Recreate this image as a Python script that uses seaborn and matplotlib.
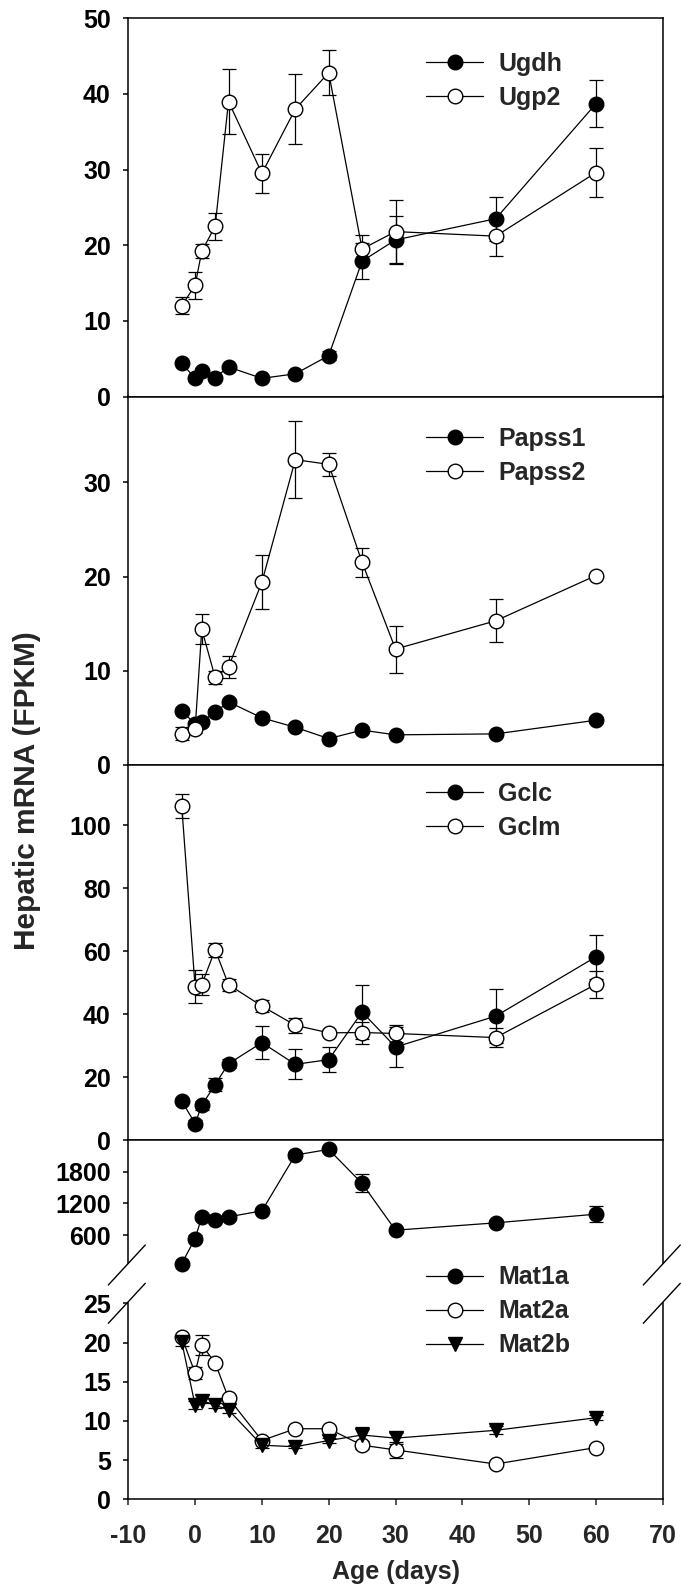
import matplotlib
matplotlib.use("Agg")
import matplotlib.pyplot as plt
import matplotlib.transforms as mtransforms
from matplotlib.lines import Line2D
import seaborn as sns

# ---------------- data ----------------
age = [-2, 0, 1, 3, 5, 10, 15, 20, 25, 30, 45, 60]

ugdh = [4.4, 2.4, 3.4, 2.5, 3.9, 2.4, 3.0, 5.4, 17.9, 20.7, 23.5, 38.7]
ugdh_err = [0.3, 0.3, 0.4, 0.3, 0.3, 0.2, 0.3, 0.6, 2.4, 3.2, 2.9, 3.1]
ugp2 = [12.0, 14.7, 19.2, 22.5, 39.0, 29.5, 38.0, 42.8, 19.5, 21.8, 21.2, 29.6]
ugp2_err = [1.1, 1.8, 0.9, 1.8, 4.35, 2.6, 4.6, 3.0, 1.8, 4.2, 2.6, 3.2]

papss1 = [5.7, 4.4, 4.6, 5.6, 6.7, 5.0, 4.0, 2.8, 3.7, 3.2, 3.3, 4.75]
papss1_err = [0.3, 0.3, 0.3, 0.3, 0.3, 0.3, 0.3, 0.2, 0.3, 0.2, 0.2, 0.3]
papss2 = [3.3, 3.8, 14.4, 9.3, 10.4, 19.4, 32.4, 31.9, 21.5, 12.3, 15.3, 20.1]
papss2_err = [0.7, 0.4, 1.6, 0.7, 1.15, 2.85, 4.1, 1.2, 1.5, 2.5, 2.3, 0.2]

gclc = [12.5, 5.3, 11.1, 17.7, 24.3, 31.0, 24.1, 25.6, 40.7, 29.6, 39.4, 58.2]
gclc_err = [0.8, 1.0, 1.5, 2.0, 1.5, 5.2, 4.8, 3.9, 8.7, 6.3, 8.5, 7.1]
gclm = [106.1, 48.7, 49.4, 60.5, 49.4, 42.6, 36.5, 34.1, 34.2, 33.9, 32.6, 49.5]
gclm_err = [3.8, 5.2, 3.4, 2.2, 1.9, 1.8, 2.4, 0.6, 3.5, 2.6, 3.0, 4.2]

mat1a = [63, 537, 947, 884, 947, 1061, 2116, 2223, 1579, 695, 834, 998]
mat1a_err = [20, 70, 50, 40, 50, 50, 60, 40, 170, 50, 60, 150]
mat2a = [20.7, 16.1, 19.7, 17.4, 12.9, 7.5, 9.0, 9.0, 6.9, 6.3, 4.5, 6.6]
mat2a_err = [0.3, 0.8, 1.3, 0.4, 0.4, 0.3, 0.3, 0.3, 0.5, 1.0, 0.3, 0.3]
mat2b = [20.1, 12.0, 12.6, 12.0, 11.4, 6.9, 6.7, 7.5, 8.2, 7.8, 8.8, 10.4]
mat2b_err = [0.5, 0.5, 0.3, 0.3, 0.4, 0.3, 0.2, 0.3, 1.0, 0.7, 0.5, 0.3]

x_ticks = [-10, 0, 10, 20, 30, 40, 50, 60, 70]

# ---------------- style ----------------
sns.set_style("ticks")
plt.rcParams["font.family"] = ["Liberation Sans", "DejaVu Sans"]
plt.rcParams["font.weight"] = "bold"
plt.rcParams["axes.unicode_minus"] = False

W, H = 681, 1589
FS = 18
FS_PX = FS * 100 / 72
SPINE_LW = 1.1
DATA_LW = 0.9

fig = plt.figure(figsize=(W / 100, H / 100), dpi=100)
LEFT, RIGHT = 128.3, 662.7


def make_ax(top, bottom):
    return fig.add_axes([LEFT / W, 1 - bottom / H, (RIGHT - LEFT) / W, (bottom - top) / H])


def style_ax(ax, yticks, ylim, show_x=False):
    ax.set_xlim(-10, 70)
    ax.set_ylim(*ylim)
    ax.set_yticks(yticks)
    ax.set_yticklabels([str(t) for t in yticks])
    for s in ax.spines.values():
        s.set_linewidth(SPINE_LW)
        s.set_color("black")
        s.set_visible(True)
    ax.tick_params(axis="y", direction="out", length=3.6, width=SPINE_LW,
                   labelsize=FS, pad=9.0, right=False, colors="black")
    if show_x:
        ax.set_xticks(x_ticks)
        ax.set_xticklabels([str(t) for t in x_ticks])
        ax.tick_params(axis="x", direction="out", length=4.0, width=SPINE_LW,
                       labelsize=FS, pad=14, top=False)
    else:
        ax.set_xticks([])
    for lab in ax.get_yticklabels() + ax.get_xticklabels():
        lab.set_fontweight("bold")
    ax.set_xlabel("")
    ax.set_ylabel("")
    ax.set_facecolor("white")


def draw(ax, y, err, filled=True, marker="o"):
    ax.errorbar(age, y, yerr=err, fmt="none", ecolor="black", elinewidth=DATA_LW,
                capsize=4.7, capthick=DATA_LW, zorder=2, clip_on=False)
    n_before = len(ax.lines)
    sns.lineplot(x=age, y=y, ax=ax, color="black", lw=DATA_LW, marker=marker,
                 markersize=10.5, markerfacecolor="black" if filled else "white",
                 markeredgecolor="black", markeredgewidth=1.0, zorder=3,
                 errorbar=None, legend=False, clip_on=False)
    return ax.lines[n_before]


def add_legend(ax, handles, labels, row1_y):
    ax.legend(handles, labels, loc="upper left",
              bbox_to_anchor=(426 / W, 1 - (row1_y - 0.38 * FS_PX) / H),
              bbox_transform=fig.transFigure, frameon=False, borderpad=0,
              borderaxespad=0, handlelength=57 / FS_PX, handletextpad=15 / FS_PX,
              labelspacing=0.40, numpoints=1,
              prop=dict(size=FS, weight="bold", family="Liberation Sans"))


# Panel 1
ax1 = make_ax(18.3, 396.5)
h1 = draw(ax1, ugdh, ugdh_err, True)
h2 = draw(ax1, ugp2, ugp2_err, False)
style_ax(ax1, [0, 10, 20, 30, 40, 50], (0, 50))
add_legend(ax1, [h1, h2], ["Ugdh", "Ugp2"], 61.7)

# Panel 2
ax2 = make_ax(396.5, 765)
h1 = draw(ax2, papss1, papss1_err, True)
h2 = draw(ax2, papss2, papss2_err, False)
style_ax(ax2, [0, 10, 20, 30], (0, 39.1))
add_legend(ax2, [h1, h2], ["Papss1", "Papss2"], 436.7)

# Panel 3
ax3 = make_ax(765, 1140.3)
h1 = draw(ax3, gclc, gclc_err, True)
h2 = draw(ax3, gclm, gclm_err, False)
style_ax(ax3, [0, 20, 40, 60, 80, 100], (0, 119.1))
add_legend(ax3, [h1, h2], ["Gclc", "Gclm"], 791.7)

# Panel 4 (broken axis)
ax4u = make_ax(1140.3, 1263.3)
hm1 = draw(ax4u, mat1a, mat1a_err, True)
style_ax(ax4u, [600, 1200, 1800], (69, 2395))
ax4u.spines["bottom"].set_visible(False)

ax4l = make_ax(1303.3, 1499.3)
hm2 = draw(ax4l, mat2a, mat2a_err, False)
hm3 = draw(ax4l, mat2b, mat2b_err, True, marker="v")
style_ax(ax4l, [0, 5, 10, 15, 20, 25], (0, 25), show_x=True)
ax4l.spines["top"].set_visible(False)
add_legend(ax4l, [hm1, hm2, hm3], ["Mat1a", "Mat2a", "Mat2b"], 1275)

# axis break marks
for (x0, y0) in [(108.3, 1285), (108.3, 1323.3), (643.3, 1285), (643.3, 1323.3)]:
    fig.add_artist(Line2D([x0 / W, (x0 + 37) / W], [1 - y0 / H, 1 - (y0 - 40) / H],
                          transform=fig.transFigure, color="black", lw=1.0))

# axis labels
ax4l.set_xlabel("Age (days)", fontsize=FS, fontweight="bold")
ax4l.xaxis.set_label_coords(0.5, 1 - 1559.5 / H,
                            transform=mtransforms.blended_transform_factory(ax4l.transAxes, fig.transFigure))
ax4l.xaxis.label.set_va("top")

fig.text(27 / W, 1 - 791 / H, "Hepatic mRNA (FPKM)", rotation=90, ha="center",
         va="center", fontsize=21.5, fontweight="bold")

fig.savefig("out.png", dpi=100, facecolor="white")
